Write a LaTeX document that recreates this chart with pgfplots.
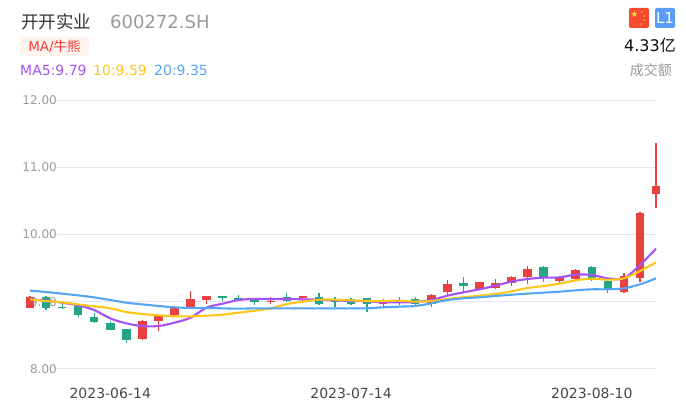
\documentclass[border=0pt]{standalone}
\usepackage{pgfplots}
\usepackage{pgfplotstable}
\usepackage{fontspec}
\pgfplotsset{compat=1.18}
\setmainfont{DejaVu Sans}
\newfontfamily\cjk{Noto Sans CJK SC}
\definecolor{upred}{HTML}{E94040}
\definecolor{downgreen}{HTML}{26A586}
\definecolor{mapurple}{HTML}{A552F5}
\definecolor{mayellow}{HTML}{FFC61A}
\definecolor{mablue}{HTML}{55A5F5}
\definecolor{gridc}{HTML}{E3E6F2}
\definecolor{tagbg}{HTML}{FFF3EE}
\definecolor{tagred}{HTML}{FF3B3B}
\pgfplotsset{/pgfplots/layers/mylayers/.define layer set={axis background,axis grid,axis ticks,axis lines,axis tick labels,pre main,main,axis descriptions,axis foreground}{}}
\pgfplotstableread{
i bot top l h
0 8.907 9.075 8.90 9.08
7 8.445 8.72 8.43 8.73
8 8.715 8.79 8.57 8.79
9 8.80 8.90 8.79 8.93
10 8.92 9.04 8.91 9.155
11 9.03 9.085 8.96 9.09
15 9.00 9.015 8.97 9.065
17 9.05 9.08 8.99 9.09
22 8.97 8.99 8.92 9.04
23 9.00 9.01 8.95 9.07
25 8.97 9.10 8.925 9.11
26 9.145 9.26 9.10 9.33
28 9.19 9.29 9.18 9.30
29 9.21 9.28 9.195 9.34
30 9.285 9.37 9.235 9.39
31 9.37 9.49 9.26 9.53
33 9.305 9.36 9.285 9.39
34 9.34 9.47 9.33 9.49
37 9.145 9.38 9.13 9.43
38 9.35 10.325 9.29 10.33
39 10.60 10.725 10.40 11.355
}\upcandles
\pgfplotstableread{
i bot top l h
1 8.907 9.075 8.88 9.08
2 8.90 8.926 8.89 8.96
3 8.80 8.937 8.78 8.94
4 8.694 8.773 8.69 8.833
5 8.58 8.69 8.575 8.72
6 8.43 8.59 8.39 8.595
12 9.055 9.085 9.01 9.09
13 9.03 9.06 9.03 9.095
14 8.99 9.04 8.95 9.045
16 9.015 9.065 9.00 9.125
18 8.97 9.075 8.955 9.125
19 8.99 9.03 8.925 9.07
20 8.97 9.04 8.95 9.055
21 8.97 9.05 8.855 9.06
24 8.97 9.04 8.935 9.07
27 9.24 9.28 9.145 9.37
32 9.36 9.52 9.295 9.53
35 9.36 9.52 9.31 9.53
36 9.195 9.31 9.13 9.32
}\downcandles
\pgfplotstableread{
i ma5 ma10 ma20
0 9.036 9.036 9.165
1 9.016 9.011 9.145
2 8.986 8.991 9.12
3 8.947 8.961 9.095
4 8.877 8.932 9.065
5 8.753 8.902 9.026
6 8.679 8.847 8.986
7 8.639 8.818 8.961
8 8.639 8.798 8.937
9 8.689 8.783 8.917
10 8.763 8.783 8.907
11 8.912 8.793 8.907
12 8.971 8.808 8.902
13 9.026 8.838 8.897
14 9.041 8.867 8.902
15 9.041 8.902 8.902
16 9.041 8.966 8.902
17 9.036 9.001 8.902
18 9.031 9.031 8.902
19 9.021 9.031 8.902
20 9.011 9.021 8.902
21 9.006 9.011 8.902
22 8.991 9.011 8.917
23 8.991 9.016 8.927
24 8.996 9.001 8.937
25 9.026 9.011 8.976
26 9.09 9.041 9.026
27 9.14 9.066 9.051
28 9.185 9.09 9.066
29 9.24 9.115 9.085
30 9.30 9.155 9.105
31 9.338 9.204 9.12
32 9.358 9.234 9.135
33 9.363 9.269 9.15
34 9.403 9.318 9.17
35 9.398 9.343 9.185
36 9.348 9.328 9.185
37 9.348 9.348 9.20
38 9.546 9.457 9.259
39 9.789 9.586 9.348
}\malines
\begin{document}
\begin{tikzpicture}
\path (0,0) rectangle (686pt,415pt);
\begin{axis}[
  set layers=mylayers,
  at={(57pt,46pt)}, anchor=south west,
  scale only axis, width=599pt, height=269pt,
  xmin=1.682, xmax=39.0, ymin=8, ymax=12,
  clip=false,
  axis line style={draw=none},
  major tick length=0pt,
  ytick={8,9,10,11,12},
  ymajorgrids,
  grid style={gridc,line width=1pt},
  xtick={5,20,35},
  xticklabels={2023-06-14,2023-07-14,2023-08-10},
  xticklabel style={anchor=center,yshift=-24pt,font=\fontsize{14}{14}\selectfont,text=black!72},
  yticklabel style={anchor=east,inner xsep=0pt,xshift=0pt,font=\fontsize{12}{12}\selectfont,text=black!40,
    /pgf/number format/fixed,/pgf/number format/fixed zerofill,/pgf/number format/precision=2,/pgf/number format/assume math mode=true},
]
% wicks and bodies
\addplot[draw=none,mark=none,forget plot,error bars/.cd,y dir=minus,y explicit,error mark=none,error bar style={line width=1.2pt,draw=upred}]
  table[x=i,y=h,y error minus expr=\thisrow{h}-\thisrow{l}] {\upcandles};
\addplot[draw=none,mark=none,forget plot,error bars/.cd,y dir=minus,y explicit,error mark=none,error bar style={line width=8.5pt,draw=upred}]
  table[x=i,y=top,y error minus expr=\thisrow{top}-\thisrow{bot}] {\upcandles};
\addplot[draw=none,mark=none,forget plot,error bars/.cd,y dir=minus,y explicit,error mark=none,error bar style={line width=1.2pt,draw=downgreen}]
  table[x=i,y=h,y error minus expr=\thisrow{h}-\thisrow{l}] {\downcandles};
\addplot[draw=none,mark=none,forget plot,error bars/.cd,y dir=minus,y explicit,error mark=none,error bar style={line width=8.5pt,draw=downgreen}]
  table[x=i,y=top,y error minus expr=\thisrow{top}-\thisrow{bot}] {\downcandles};
% moving averages
\addplot[mapurple,line width=2.1pt,smooth,tension=0.55,mark=none] table[x=i,y=ma5] {\malines};
\addplot[mayellow,line width=2.1pt,smooth,tension=0.55,mark=none] table[x=i,y=ma10] {\malines};
\addplot[mablue,line width=2.1pt,smooth,tension=0.55,mark=none] table[x=i,y=ma20] {\malines};
\end{axis}
% header
\node[anchor=west,inner sep=0pt,text=black!80] at (21pt,393pt) {\fontsize{17.5}{18}\selectfont\cjk 开开实业};
\node[anchor=west,inner sep=0pt,text=black!40] at (110pt,393pt) {\fontsize{18}{18}\selectfont 600272.SH};
\fill[fill=tagbg,rounded corners=2pt] (20pt,359pt) rectangle (89pt,378pt);
\node[anchor=center,inner sep=0pt,text=tagred] at (54.5pt,369pt) {\fontsize{13.5}{14}\selectfont MA/{\cjk 牛熊}};
\node[anchor=west,inner sep=0pt,text=mapurple] at (20pt,345pt) {\fontsize{14}{14}\selectfont MA5:9.79};
\node[anchor=west,inner sep=0pt,text=mayellow] at (93pt,345pt) {\fontsize{14}{14}\selectfont 10:9.59};
\node[anchor=west,inner sep=0pt,text=mablue] at (154pt,345pt) {\fontsize{14}{14}\selectfont 20:9.35};
% right badges
\definecolor{flagred}{RGB}{244,75,48}
\definecolor{flagstar}{RGB}{255,215,70}
\definecolor{badgeblue}{RGB}{91,156,248}
\fill[fill=flagred,rounded corners=2pt] (629pt,387pt) rectangle (649pt,407pt);
\node[text=flagstar,inner sep=0pt] at (634.5pt,400.5pt) {\fontsize{9}{9}\selectfont ★};
\foreach \p in {(642pt,403pt),(644.5pt,399pt),(644.5pt,394.5pt),(641.5pt,391pt)}
  \node[text=flagstar,inner sep=0pt] at \p {\fontsize{3}{3}\selectfont ★};
\fill[fill=badgeblue,rounded corners=2pt] (655pt,387pt) rectangle (675pt,407pt);
\node[text=white,inner sep=0pt] at (665pt,397pt) {\fontsize{15}{15}\selectfont L1};
\node[anchor=east,inner sep=0pt,text=black!95] at (676pt,370pt) {\fontsize{16}{16}\selectfont 4.33{\cjk 亿}};
\node[anchor=east,inner sep=0pt,text=black!40] at (672pt,345pt) {\fontsize{14}{14}\selectfont\cjk 成交额};
\end{tikzpicture}
\end{document}
